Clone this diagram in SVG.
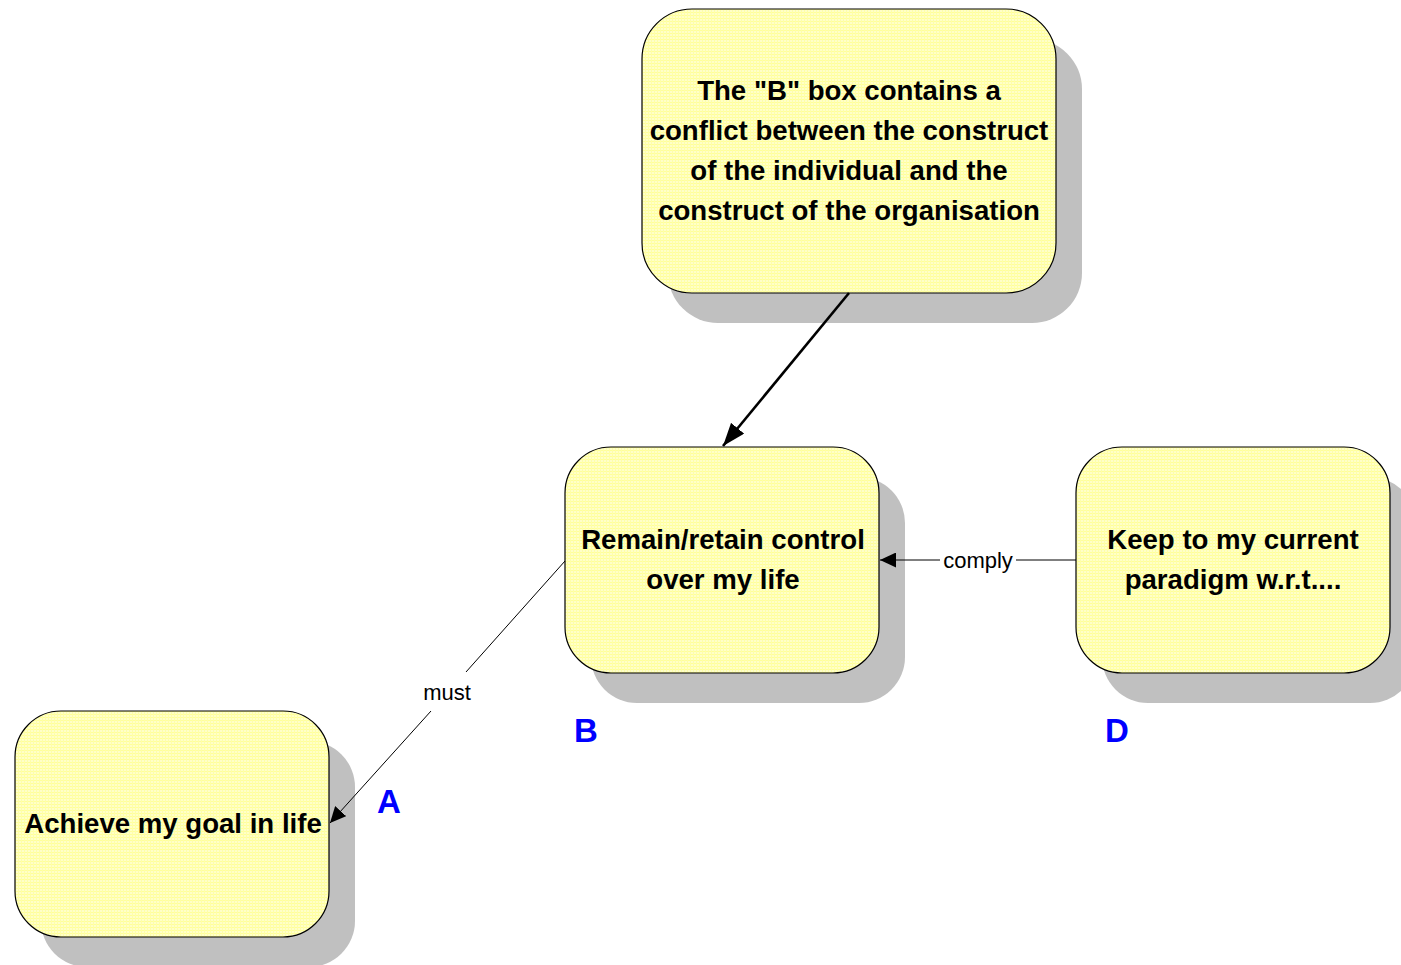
<svg xmlns="http://www.w3.org/2000/svg" width="1401" height="965" viewBox="0 0 1401 965">
  <style>
    .shadow { fill: #c0c0c0; }
    .box { fill: url(#grid); stroke: #000; stroke-width: 1.2; }
    .txt { font-family: "Liberation Sans", Arial, sans-serif; font-weight: bold; font-size: 27.6px; fill: #000; text-anchor: middle; }
    .tag { font-family: "Liberation Sans", Arial, sans-serif; font-weight: bold; font-size: 33px; fill: #0000ff; text-anchor: middle; }
    .lbl { font-family: "Liberation Sans", Arial, sans-serif; font-size: 22px; fill: #000; text-anchor: middle; }
    .thin { stroke: #000; stroke-width: 1; fill: none; }
    .thick { stroke: #000; stroke-width: 2.6; fill: none; }
  </style>
  <defs>
    <pattern id="grid" width="3" height="3" patternUnits="userSpaceOnUse">
      <rect width="3" height="3" fill="#ffffc8"/>
      <rect width="3" height="1" fill="#ffff99"/>
      <rect width="1" height="3" fill="#ffffa8"/>
    </pattern>
    <marker id="arrowBig" viewBox="0 0 23 17" refX="23" refY="8.5" markerWidth="23" markerHeight="17" markerUnits="userSpaceOnUse" orient="auto">
      <path d="M0,0 L23,8.5 L0,17 Z" fill="#000"/>
    </marker>
    <marker id="arrowSmall" viewBox="0 0 16 15" refX="16" refY="7.5" markerWidth="16" markerHeight="15" markerUnits="userSpaceOnUse" orient="auto">
      <path d="M0,0 L16,7.5 L0,15 Z" fill="#000"/>
    </marker>
  </defs>

  <rect width="1401" height="965" fill="#fff"/>

  <!-- nodes -->
  <g id="node-note">
    <rect class="shadow" x="668" y="39" width="414" height="284" rx="50" ry="50"/>
    <rect class="box" x="642" y="9" width="414" height="284" rx="50" ry="50"/>
    <text class="txt" x="849" y="100">The "B" box contains a</text>
    <text class="txt" x="849" y="140">conflict between the construct</text>
    <text class="txt" x="849" y="180">of the individual and the</text>
    <text class="txt" x="849" y="220">construct of the organisation</text>
  </g>

  <g id="node-b">
    <rect class="shadow" x="591" y="477" width="314" height="226" rx="46" ry="46"/>
    <rect class="box" x="565" y="447" width="314" height="226" rx="46" ry="46"/>
    <text class="txt" x="723" y="549">Remain/retain control</text>
    <text class="txt" x="723" y="589">over my life</text>
    <text class="tag" x="586" y="742">B</text>
  </g>

  <g id="node-d">
    <rect class="shadow" x="1102" y="477" width="314" height="226" rx="46" ry="46"/>
    <rect class="box" x="1076" y="447" width="314" height="226" rx="46" ry="46"/>
    <text class="txt" x="1233" y="549">Keep to my current</text>
    <text class="txt" x="1233" y="589">paradigm w.r.t....</text>
    <text class="tag" x="1117" y="742">D</text>
  </g>

  <g id="node-a">
    <rect class="shadow" x="41" y="741" width="314" height="226" rx="46" ry="46"/>
    <rect class="box" x="15" y="711" width="314" height="226" rx="46" ry="46"/>
    <text class="txt" x="173" y="833">Achieve my goal in life</text>
    <text class="tag" x="389" y="813">A</text>
  </g>

  <!-- connectors -->
  <g id="connectors">
    <line class="thick" x1="849" y1="293" x2="723" y2="446" marker-end="url(#arrowBig)"/>
    <line class="thin" x1="1076" y1="560" x2="1016" y2="560"/>
    <line class="thin" x1="940" y1="560" x2="880" y2="560" marker-end="url(#arrowSmall)"/>
    <text class="lbl" x="978" y="568">comply</text>
    <line class="thin" x1="565" y1="561" x2="466" y2="672"/>
    <line class="thin" x1="431" y1="711" x2="330" y2="823" marker-end="url(#arrowSmall)"/>
    <text class="lbl" x="447" y="700">must</text>
  </g>
</svg>
